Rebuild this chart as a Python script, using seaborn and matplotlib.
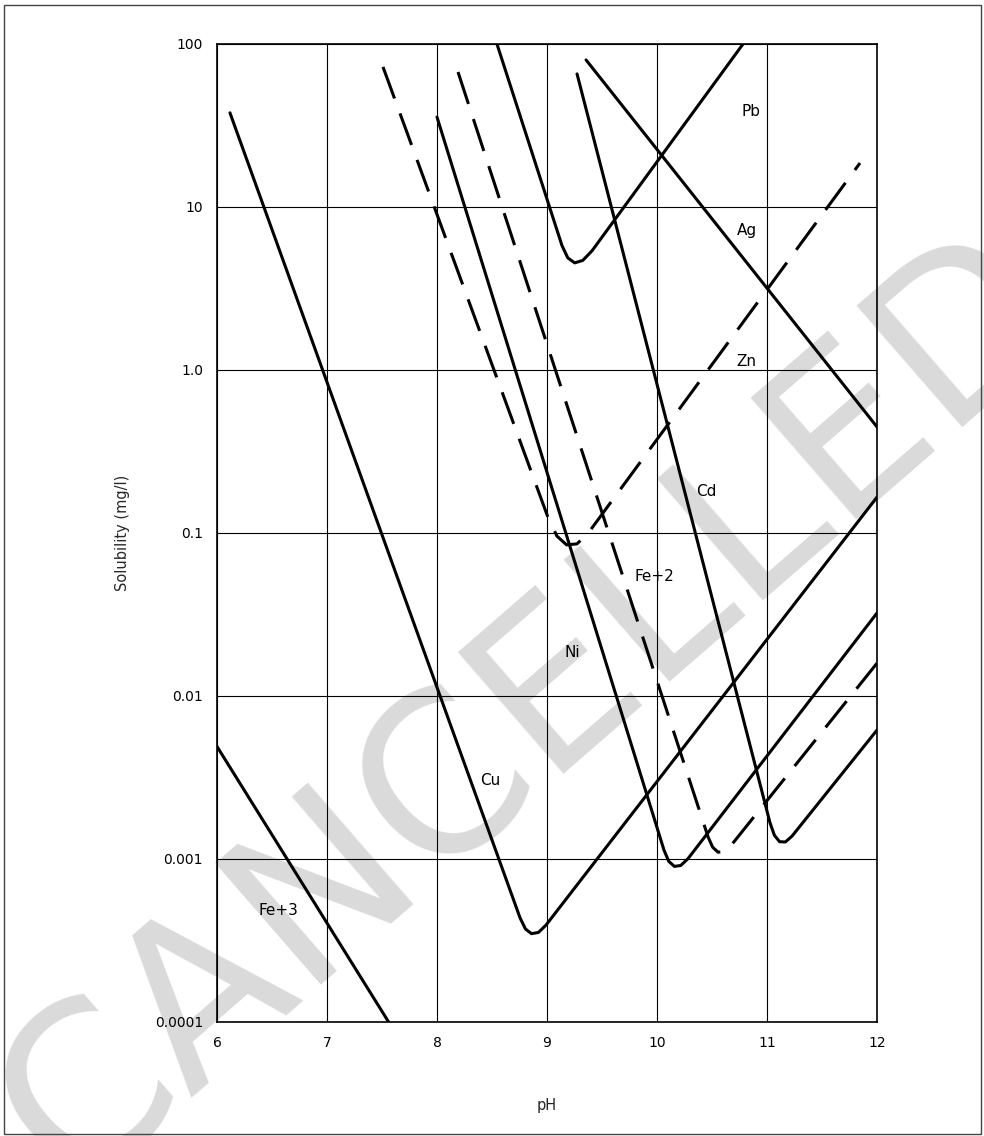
import matplotlib
matplotlib.use("Agg")
import matplotlib.pyplot as plt
import seaborn as sns
import pandas as pd
from matplotlib.patches import Rectangle
from matplotlib.ticker import FixedLocator, NullLocator

# values: pH and solubility (mg/l)
fe3_ph = [6.0, 7.56]
fe3_sol = [0.0049, 0.0001]

cu_ph = [6.118, 8.755, 8.804, 8.859, 8.922, 8.991, 12.0]
cu_sol = [37.8, 0.000435, 0.000372, 0.000348, 0.000354, 0.000393, 0.166]

ni_ph = [8.0, 10.064, 10.107, 10.158, 10.216, 10.282, 12.0]
ni_sol = [35.6, 0.00113, 0.000966, 0.0009, 0.000912, 0.001005, 0.0323]

fe2_ph = [8.191, 10.464, 10.506, 10.555, 10.611, 10.673, 12.0]
fe2_sol = [67.3, 0.001365, 0.00118, 0.0011, 0.00111, 0.00121, 0.0159]

zn_ph = [7.509, 9.009, 9.09, 9.178, 9.272, 9.373, 11.845]
zn_sol = [72.3, 0.1245, 0.0957, 0.0845, 0.0857, 0.0995, 18.6]

pb_ph = [8.545, 9.136, 9.189, 9.252, 9.325, 9.409, 10.782]
pb_sol = [100, 5.8, 4.87, 4.54, 4.7, 5.38, 100]

cd_ph = [9.273, 11.027, 11.067, 11.114, 11.167, 11.227, 12.0]
cd_sol = [65.5, 0.001667, 0.001397, 0.001276, 0.001271, 0.00138, 0.00618]

ag_ph = [9.355, 12.0]
ag_sol = [79.8, 0.447]

curves = [
    (fe3_ph, fe3_sol, False),
    (cu_ph, cu_sol, False),
    (ni_ph, ni_sol, False),
    (fe2_ph, fe2_sol, True),
    (zn_ph, zn_sol, True),
    (pb_ph, pb_sol, False),
    (cd_ph, cd_sol, False),
    (ag_ph, ag_sol, False),
]

label_text = ["Pb", "Ag", "Zn", "Cd", "Fe+2", "Ni", "Cu", "Fe+3"]
label_ph = [10.85, 10.82, 10.81, 10.45, 9.98, 9.23, 8.48, 6.56]
label_sol = [38.3, 7.2, 1.12, 0.179, 0.0537, 0.0186, 0.00305, 0.00048]

y_ticks = [0.0001, 0.001, 0.01, 0.1, 1.0, 10, 100]
y_labels = ["0.0001", "0.001", "0.01", "0.1", "1.0", "10", "100"]
x_ticks = [6, 7, 8, 9, 10, 11, 12]

sns.set_theme(style="white")
plt.rcParams["font.family"] = ["DejaVu Sans"]

fig = plt.figure(figsize=(9.84, 11.36), dpi=100)
ax = fig.add_axes([0.2205, 0.1004, 0.6708, 0.8609])
ax.set_facecolor("none")

# big grey watermark behind the chart
fig.text(0.54, 0.375, "CANCELLED", rotation=41, rotation_mode="anchor",
         ha="center", va="center", fontsize=160, color="#dadada", zorder=-1)

for ph, sol, dashed in curves:
    df = pd.DataFrame({"pH": ph, "sol": sol})
    ls = (0, (11, 5.2)) if dashed else "-"
    sns.lineplot(data=df, x="pH", y="sol", ax=ax, sort=False, estimator=None,
                 color="black", linewidth=2.2, linestyle=ls, zorder=3)

for t, x, y in zip(label_text, label_ph, label_sol):
    ax.text(x, y, t, ha="center", va="center", fontsize=11, color="black", zorder=4)

ax.set_yscale("log")
ax.set_xlim(6, 12)
ax.set_ylim(0.0001, 100)
ax.xaxis.set_major_locator(FixedLocator(x_ticks))
ax.yaxis.set_major_locator(FixedLocator(y_ticks))
ax.yaxis.set_minor_locator(NullLocator())
ax.set_xticklabels([str(v) for v in x_ticks])
ax.set_yticklabels(y_labels)
ax.tick_params(axis="both", length=0, labelsize=10, colors="black")
ax.tick_params(axis="x", pad=10)
ax.tick_params(axis="y", pad=10)
ax.grid(True, color="black", linewidth=0.8, zorder=1)
for s in ax.spines.values():
    s.set_color("black")
    s.set_linewidth(1.2)
    s.set_visible(True)

ax.set_xlabel("pH", fontsize=10.5, labelpad=35)
ax.set_ylabel("Solubility (mg/l)", fontsize=10.5, labelpad=18)

fig.patches.append(Rectangle((0.004, 0.002), 0.993, 0.994, transform=fig.transFigure,
                             fill=False, linewidth=1, edgecolor="#444444"))

fig.savefig("out.png", dpi=100)
